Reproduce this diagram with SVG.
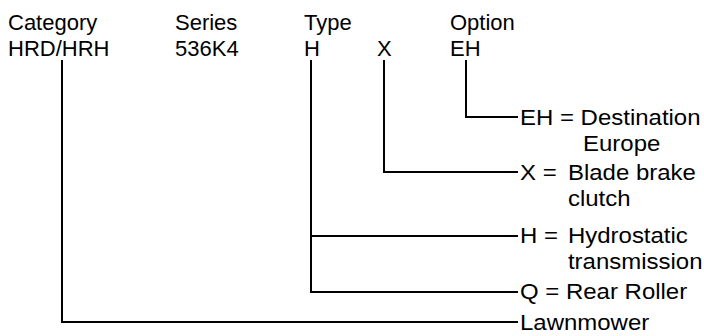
<svg xmlns="http://www.w3.org/2000/svg" width="704" height="336" viewBox="0 0 704 336">
<style>
text{font-family:"Liberation Sans",Arial,sans-serif;font-size:22px;fill:#000}
.c{fill:none;stroke:#000;stroke-width:2}
</style>
<rect width="704" height="336" fill="#fff"/>
<g id="header">
<text x="8" y="30">Category</text>
<text x="8" y="56">HRD/HRH</text>
<text x="175" y="30">Series</text>
<text x="175" y="56">536K4</text>
<text x="304" y="30">Type</text>
<text x="304" y="56">H</text>
<text x="377" y="56">X</text>
<text x="450" y="30">Option</text>
<text x="450" y="56">EH</text>
</g>
<g id="connectors">
<polyline class="c" points="466,60 466,117 518,117"/>
<polyline class="c" points="384,60 384,172 518,172"/>
<polyline class="c" points="311,60 311,292 518,292"/>
<line class="c" x1="311" y1="236" x2="518" y2="236"/>
<polyline class="c" points="62,60 62,322 518,322"/>
</g>
<g id="label-eh" transform="translate(520,0) scale(1.09,1)">
<text x="0" y="125">EH = Destination</text>
<text x="57.8" y="151">Europe</text>
</g>
<g id="label-x" transform="translate(520,0) scale(1.09,1)">
<text x="0" y="180">X =</text>
<text x="44" y="180">Blade brake</text>
<text x="44" y="206">clutch</text>
</g>
<g id="label-h" transform="translate(520,0) scale(1.09,1)">
<text x="0" y="243">H =</text>
<text x="44" y="243">Hydrostatic</text>
<text x="44" y="269">transmission</text>
</g>
<g id="label-q" transform="translate(520,0) scale(1.09,1)">
<text x="0" y="299">Q = Rear Roller</text>
</g>
<g id="label-lawnmower" transform="translate(520,0) scale(1.09,1)">
<text x="0" y="330">Lawnmower</text>
</g>
</svg>
